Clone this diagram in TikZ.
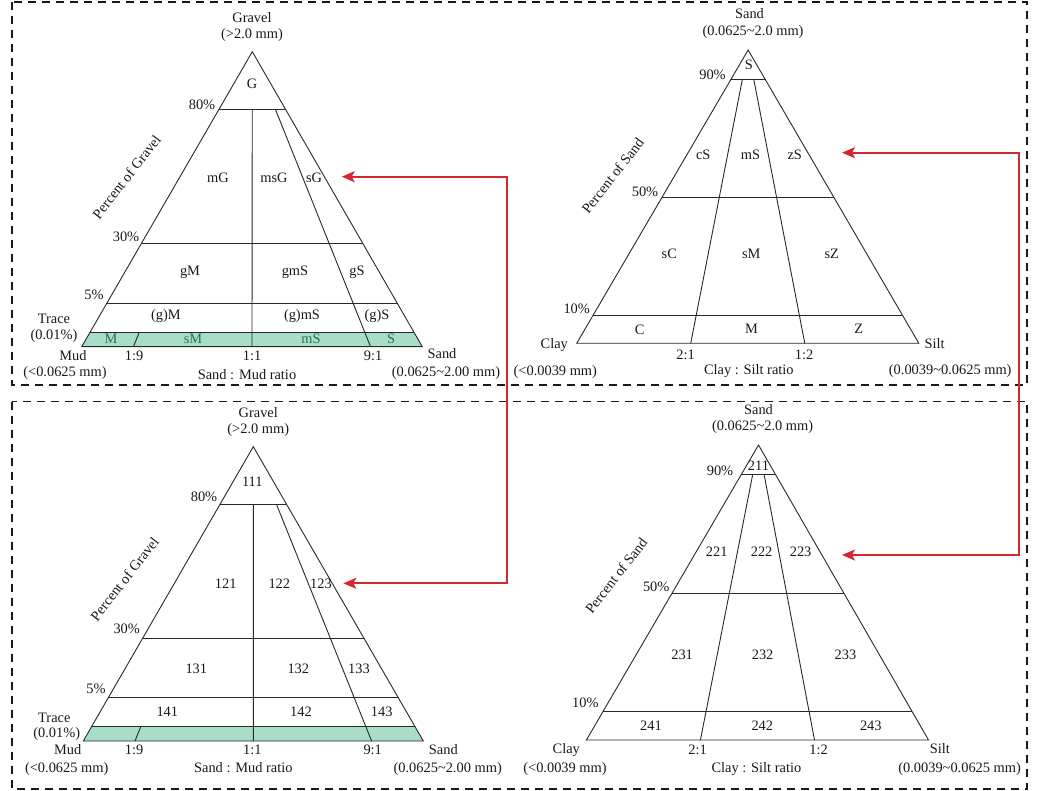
\documentclass[tikz,border=0pt]{standalone}
\usepackage{fontspec}
\setmainfont{Liberation Serif}
\usetikzlibrary{calc,arrows.meta}
\definecolor{stripgreen}{RGB}{168,222,200}
\definecolor{striptext}{RGB}{45,110,88}
\definecolor{arrowred}{RGB}{212,40,48}
\definecolor{lineclr}{RGB}{40,40,40}
\tikzset{
  lbl/.style={font=\fontsize{14.4}{16}\selectfont, inner sep=0pt, text height=9.5pt, text depth=3pt, text=black!90},
  striplbl/.style={lbl, text=striptext},
  rotlbl/.style={lbl, rotate=52},
  triline/.style={draw=lineclr, line width=0.9pt},
  stripfill/.style={fill=stripgreen},
  dashbox/.style={draw=black!90, line width=1.6pt, dash pattern=on 8pt off 6pt},
  linkarrow/.style={draw=arrowred, line width=2pt,
    {Stealth[length=13pt,width=11pt,inset=3pt]}-{Stealth[length=13pt,width=11pt,inset=3pt]}},
}
\newcommand{\gravtri}[1]{%
  \coordinate (#1M19) at ($(#1L)!0.152!(#1R)$);
  \coordinate (#1M11) at ($(#1L)!0.5!(#1R)$);
  \coordinate (#1M91) at ($(#1L)!0.848!(#1R)$);
  \fill[stripfill] ($(#1A)!0.951!(#1L)$) -- ($(#1A)!0.951!(#1R)$) -- (#1R) -- (#1L) -- cycle;
  \foreach \t in {0.195,0.65,0.852,0.951}{\draw[triline] ($(#1A)!\t!(#1L)$) -- ($(#1A)!\t!(#1R)$);}
  \draw[triline] ($(#1A)!0.195!(#1M11)$) -- (#1M11);
  \draw[triline] ($(#1A)!0.195!(#1M91)$) -- (#1M91);
  \draw[triline] ($(#1A)!0.951!(#1M19)$) -- (#1M19);
  \draw[triline] (#1A) -- (#1L) -- (#1R) -- cycle;
}
\newcommand{\sandtri}[1]{%
  \coordinate (#1M21) at ($(#1L)!0.3333!(#1R)$);
  \coordinate (#1M12) at ($(#1L)!0.6667!(#1R)$);
  \foreach \t in {0.1,0.504,0.904}{\draw[triline] ($(#1A)!\t!(#1L)$) -- ($(#1A)!\t!(#1R)$);}
  \draw[triline] ($(#1A)!0.1!(#1M21)$) -- (#1M21);
  \draw[triline] ($(#1A)!0.1!(#1M12)$) -- (#1M12);
  \draw[triline] (#1A) -- (#1L) -- (#1R) -- cycle;
}
\begin{document}
\begin{tikzpicture}[x=1pt,y=-1pt]
\useasboundingbox (0,0) rectangle (1039,791);
% frames
\draw[dashbox] (12,2) rectangle (1027,385);
\draw[dashbox] (12,401.7) rectangle (1027,789);

% ---------- top-left: gravel triangle ----------
\coordinate (tlA) at (252.3,51.7);
\coordinate (tlL) at (81.7,346.7);
\coordinate (tlR) at (422.3,346.7);
\gravtri{tl}
\node[lbl] (tlGravel) at (252,19) {Gravel};
\node[lbl] (tlGravelS) at (252,35) {(>2.0 mm)};
\node[lbl] (tlG) at (252,85) {G};
\node[lbl] (tlP80) at (202,106) {80\%};
\node[rotlbl] (tlPct) at (128,178) {Percent of Gravel};
\node[lbl] (tlmG) at (218,179) {mG};
\node[lbl] (tlmsG) at (274,179) {msG};
\node[lbl] (tlsG) at (314,179) {sG};
\node[lbl] (tlP30) at (126,238) {30\%};
\node[lbl] (tlgM) at (190,272) {gM};
\node[lbl] (tlgmS) at (295,272) {gmS};
\node[lbl] (tlgS) at (357,272) {gS};
\node[lbl] (tlP5) at (94,296) {5\%};
\node[lbl] (tlgM2) at (166,316) {(g)M};
\node[lbl] (tlgmS2) at (302,316) {(g)mS};
\node[lbl] (tlgS2) at (377,316) {(g)S};
\node[lbl] (tlTrace) at (54,320) {Trace};
\node[lbl] (tlTraceP) at (54,336) {(0.01\%)};
\node[striplbl] (tlM) at (111,340) {M};
\node[striplbl] (tlsM) at (193,340) {sM};
\node[striplbl] (tlmS) at (311,340) {mS};
\node[striplbl] (tlS) at (391,340) {S};
\node[lbl] (tlMud) at (73,357) {Mud};
\node[lbl] (tlMudS) at (65,373) {(<0.0625 mm)};
\node[lbl] (tlR19) at (134,357) {1:9};
\node[lbl] (tlR11) at (252,357) {1:1};
\node[lbl] (tlR91) at (373,357) {9:1};
\node[lbl] (tlRatio) at (247,376) {Sand : Mud ratio};
\node[lbl] (tlSand) at (442,355) {Sand};
\node[lbl] (tlSandS) at (446,373) {(0.0625\textasciitilde 2.00 mm)};

% ---------- bottom-left: gravel triangle codes ----------
\coordinate (blA) at (253.3,446.7);
\coordinate (blL) at (83.3,741);
\coordinate (blR) at (423.3,741);
\gravtri{bl}
\node[lbl] (blGravel) at (258.3,414) {Gravel};
\node[lbl] (blGravelS) at (258.3,430) {(>2.0 mm)};
\node[lbl] (bl111) at (252.3,483.3) {111};
\node[lbl] (blP80) at (204,498.3) {80\%};
\node[rotlbl] (blPct) at (126,580) {Percent of Gravel};
\node[lbl] (bl121) at (225.7,585) {121};
\node[lbl] (bl122) at (279.3,585) {122};
\node[lbl] (bl123) at (321,585) {123};
\node[lbl] (blP30) at (126.7,630.7) {30\%};
\node[lbl] (bl131) at (196.3,670) {131};
\node[lbl] (bl132) at (298.3,670) {132};
\node[lbl] (bl133) at (359,670) {133};
\node[lbl] (blP5) at (96,690) {5\%};
\node[lbl] (bl141) at (167.3,713.3) {141};
\node[lbl] (bl142) at (301,713.3) {142};
\node[lbl] (bl143) at (381.7,713.3) {143};
\node[lbl] (blTrace) at (54.3,719.3) {Trace};
\node[lbl] (blTraceP) at (56.7,734) {(0.01\%)};
\node[lbl] (blMud) at (67.7,751.7) {Mud};
\node[lbl] (blMudS) at (66.7,769.3) {(<0.0625 mm)};
\node[lbl] (blR19) at (134,751.7) {1:9};
\node[lbl] (blR11) at (252.3,751.7) {1:1};
\node[lbl] (blR91) at (372.7,751.7) {9:1};
\node[lbl] (blRatio) at (243.3,769.3) {Sand : Mud ratio};
\node[lbl] (blSand) at (443.3,751.7) {Sand};
\node[lbl] (blSandS) at (447.7,769.3) {(0.0625\textasciitilde 2.00 mm)};

% ---------- top-right: sand triangle ----------
\coordinate (trA) at (748.1,50);
\coordinate (trL) at (576.7,343.3);
\coordinate (trR) at (918.8,343.3);
\sandtri{tr}
\node[lbl] (trSand) at (749.5,15) {Sand};
\node[lbl] (trSandS) at (753,32) {(0.0625\textasciitilde 2.0 mm)};
\node[lbl] (trS) at (748.8,66.7) {S};
\node[lbl] (trP90) at (712.5,76.7) {90\%};
\node[rotlbl] (trPct) at (614,176.7) {Percent of Sand};
\node[lbl] (trcS) at (703.2,156.7) {cS};
\node[lbl] (trmS) at (750.5,156.7) {mS};
\node[lbl] (trzS) at (794.7,156.7) {zS};
\node[lbl] (trP50) at (645,193.3) {50\%};
\node[lbl] (trsC) at (669.3,255) {sC};
\node[lbl] (trsM) at (751.2,255) {sM};
\node[lbl] (trsZ) at (831.7,255) {sZ};
\node[lbl] (trP10) at (576.7,310.7) {10\%};
\node[lbl] (trC) at (639.6,331) {C};
\node[lbl] (trM) at (751.6,330) {M};
\node[lbl] (trZ) at (858.7,330) {Z};
\node[lbl] (trClay) at (554.3,345.7) {Clay};
\node[lbl] (trClayS) at (555.3,372.3) {(<0.0039 mm)};
\node[lbl] (trR21) at (685.6,356) {2:1};
\node[lbl] (trR12) at (804,356) {1:2};
\node[lbl] (trRatio) at (748.8,371.7) {Clay : Silt ratio};
\node[lbl] (trSilt) at (934.7,345.7) {Silt};
\node[lbl] (trSiltS) at (950.2,371.7) {(0.0039\textasciitilde 0.0625 mm)};

% ---------- bottom-right: sand triangle codes ----------
\coordinate (brA) at (758.5,445);
\coordinate (brL) at (586.4,740);
\coordinate (brR) at (928.5,740);
\sandtri{br}
\node[lbl] (brSand) at (758.5,411.7) {Sand};
\node[lbl] (brSandS) at (762.6,427.7) {(0.0625\textasciitilde 2.0 mm)};
\node[lbl] (br211) at (758.5,467.7) {211};
\node[lbl] (brP90) at (720,472.7) {90\%};
\node[rotlbl] (brPct) at (617.5,576.7) {Percent of Sand};
\node[lbl] (br221) at (716.7,553.3) {221};
\node[lbl] (br222) at (761.6,553.3) {222};
\node[lbl] (br223) at (800.6,553.3) {223};
\node[lbl] (brP50) at (656.2,588.3) {50\%};
\node[lbl] (br231) at (682.1,656.7) {231};
\node[lbl] (br232) at (762.6,656.7) {232};
\node[lbl] (br233) at (845.5,656.7) {233};
\node[lbl] (brP10) at (585.3,704) {10\%};
\node[lbl] (br241) at (651,727.7) {241};
\node[lbl] (br242) at (762.3,727.7) {242};
\node[lbl] (br243) at (870.8,727.7) {243};
\node[lbl] (brClay) at (566.3,750) {Clay};
\node[lbl] (brClayS) at (565,769.3) {(<0.0039 mm)};
\node[lbl] (brR21) at (697.6,751.7) {2:1};
\node[lbl] (brR12) at (818.6,751.7) {1:2};
\node[lbl] (brRatio) at (756.4,769.3) {Clay : Silt ratio};
\node[lbl] (brSilt) at (939.9,750) {Silt};
\node[lbl] (brSiltS) at (959.6,769.3) {(0.0039\textasciitilde 0.0625 mm)};

% ---------- red link arrows ----------
\coordinate (tlTip) at (341.7,176.7);
\coordinate (blTip) at (343.3,583.3);
\coordinate (leftBus) at (507.3,380);
\draw[linkarrow] (tlTip) -| (leftBus) |- (blTip);
\coordinate (trTip) at (842,152.7);
\coordinate (brTip) at (842,555);
\coordinate (rightBus) at (1019,380);
\draw[linkarrow] (trTip) -| (rightBus) |- (brTip);
\end{tikzpicture}
\end{document}
